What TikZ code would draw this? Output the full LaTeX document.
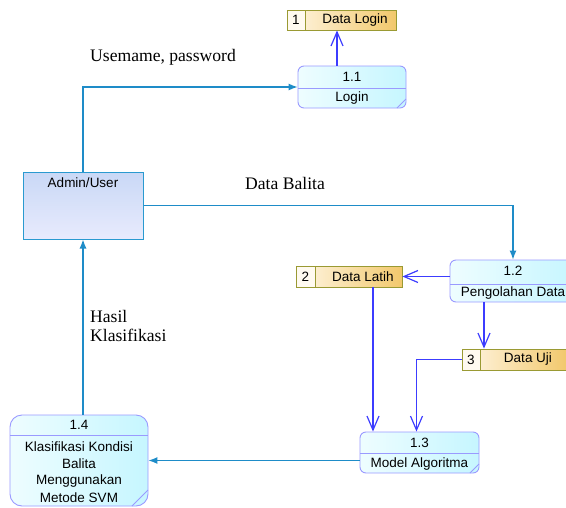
\documentclass[tikz,border=0pt]{standalone}
\usepackage{fontspec}
\setmainfont{Liberation Serif}
\newfontfamily\boxfont{Liberation Sans}
\usetikzlibrary{arrows.meta}
\definecolor{procb}{HTML}{9A9AFF}
\definecolor{procl}{HTML}{EEFDFF}
\definecolor{procr}{HTML}{C6F6FF}
\definecolor{storeb}{HTML}{9A9A33}
\definecolor{storel}{HTML}{FFF6E4}
\definecolor{storer}{HTML}{F2C86C}
\definecolor{storen}{HTML}{FFFAF0}
\definecolor{extb}{HTML}{2A9AD0}
\definecolor{extt}{HTML}{C9D8F6}
\definecolor{extbt}{HTML}{E8EBFD}
\definecolor{extflowc}{HTML}{1E8CC8}
\definecolor{intflowc}{HTML}{3C3CFF}
\tikzset{
  proc/.style={draw=procb, line width=0.9pt, rounded corners=6pt, left color=procl, right color=procr, inner sep=0pt},
  store/.style={draw=storeb, line width=0.9pt, left color=storel, right color=storer, inner sep=0pt},
  entity/.style={draw=extb, line width=1pt, top color=extt, bottom color=extbt, inner sep=0pt},
  boxtxt/.style={font=\boxfont\fontsize{13.5}{16}\selectfont, inner sep=0pt},
  lbl/.style={font=\fontsize{17.6}{20}\selectfont, inner sep=0pt, anchor=base west},
  divline/.style={draw=procb, line width=0.9pt},
  sdiv/.style={draw=storeb, line width=0.9pt},
  extflow/.style={draw=extflowc, line width=1.2pt, -{Latex[length=9pt,width=7pt]}},
  intflow/.style={draw=intflowc, line width=1.2pt, -{Straight Barb[length=14pt,width=12pt,line width=1.2pt]}}
}
\begin{document}
\begin{tikzpicture}[x=1pt,y=-1pt]
\useasboundingbox (0,0) rectangle (566,507);
\clip (0,0) rectangle (566,507);

% data stores
\node[store, minimum width=109pt, minimum height=20pt] (dlog) at (341.5,20) {};
\fill[storen] (287,10) rectangle (305,30);
\draw[sdiv] (287,10) rectangle (305,30);
\node[boxtxt] (dlogn) at (296,20) {1};
\node[boxtxt] (dlogt) at (355,20) {Data Login};

\node[store, minimum width=106pt, minimum height=21pt] (dlat) at (349,276.5) {};
\fill[storen] (296,266) rectangle (315,287);
\draw[sdiv] (296,266) rectangle (315,287);
\node[boxtxt] (dlatn) at (305.5,276.5) {2};
\node[boxtxt] (dlatt) at (363,276.5) {Data Latih};

\node[store, minimum width=105pt, minimum height=21pt] (duji) at (514.5,359.5) {};
\fill[storen] (462,349) rectangle (480,370);
\draw[sdiv] (462,349) rectangle (480,370);
\node[boxtxt] (dujin) at (471,359.5) {3};
\node[boxtxt] (dujit) at (528,359.5) {Data Uji};

% external entity
\node[entity, minimum width=120pt, minimum height=67pt] (admin) at (83,205.5) {};
\node[boxtxt] (admint) at (83,183) {Admin/User};

% processes
\node[proc, minimum width=108pt, minimum height=42pt] (p11) at (352,87) {};
\draw[divline] (298,88) -- (406,88);
\draw[divline] (397,108) -- (406,99);
\node[boxtxt] (p11n) at (352,77) {1.1};
\node[boxtxt] (p11t) at (352,98.5) {Login};

\node[proc, minimum width=126pt, minimum height=42pt] (p12) at (513,281) {};
\draw[divline] (450,284) -- (576,284);
\node[boxtxt] (p12n) at (513,271) {1.2};
\node[boxtxt] (p12t) at (513,293.5) {Pengolahan Data};

\node[proc, minimum width=119pt, minimum height=41pt] (p13) at (419.5,452.5) {};
\draw[divline] (360,453) -- (479,453);
\draw[divline] (470,473) -- (479,464);
\node[boxtxt] (p13n) at (419.5,442.5) {1.3};
\node[boxtxt] (p13t) at (419.5,464) {Model Algoritma};

\node[proc, rounded corners=12pt, minimum width=138pt, minimum height=91pt] (p14) at (79,460.5) {};
\draw[divline] (10,435) -- (148,435);
\draw[divline] (132,506) -- (148,490);
\node[boxtxt] (p14n) at (79,425) {1.4};
\node[boxtxt] (p14a) at (79,447) {Klasifikasi Kondisi};
\node[boxtxt] (p14b) at (79,464) {Balita};
\node[boxtxt] (p14c) at (79,481) {Menggunakan};
\node[boxtxt] (p14d) at (79,498) {Metode SVM};

% flows
\draw[extflow] (admin.north) |- (p11.west);
\draw[intflow] ([xshift=-15pt]p11.north) -- ([xshift=-15pt]p11.north |- dlog.south);
\draw[extflow] (admin.east) -| (p12.north);
\draw[intflow] (p12.west |- dlat.east) -- (dlat.east);
\draw[intflow] ([xshift=-29pt]p12.south) -- ([xshift=-29pt]p12.south |- duji.north);
\draw[intflow] ([xshift=24pt]dlat.south) -- ([xshift=24pt]dlat.south |- p13.north);
\draw[intflow] (duji.west) -| ([xshift=-3pt]p13.north);
\draw[extflow] (p13.west |- p14.east) -- (p14.east);
\draw[extflow] (admin.south |- p14.north) -- (admin.south);

% labels
\node[lbl] (l1) at (90,61) {Usemame, password};
\node[lbl] (l2) at (245,189) {Data Balita};
\node[lbl] (l3) at (90,322) {Hasil};
\node[lbl] (l4) at (90,341) {Klasifikasi};
\end{tikzpicture}
\end{document}
